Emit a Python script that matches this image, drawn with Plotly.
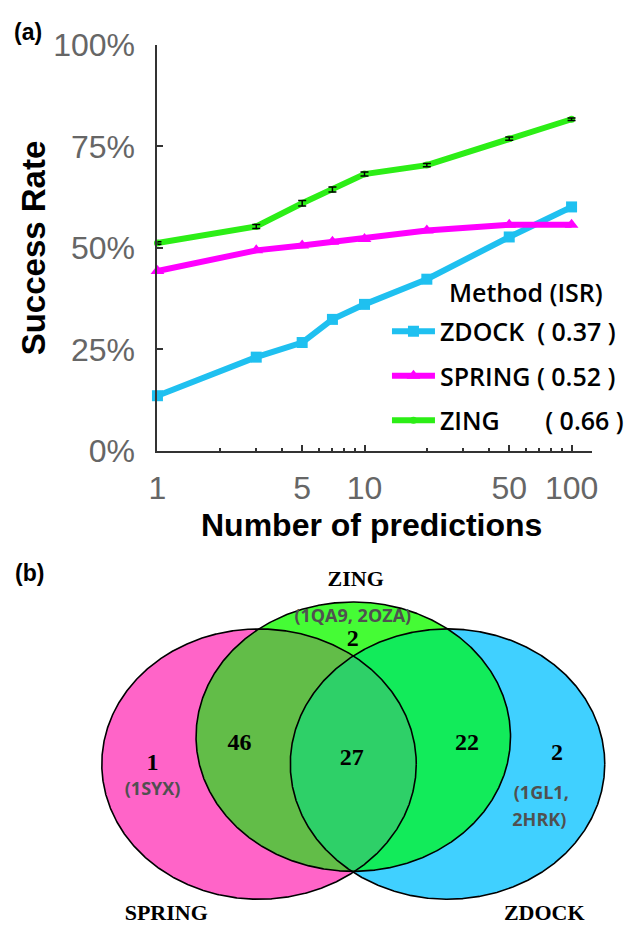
import numpy as np
import plotly.graph_objects as go

# ---------------- data: panel (a) ----------------
x_preds = [1, 3, 5, 7, 10, 20, 50, 100]
zdock_rate = [13.6, 23.1, 26.7, 32.4, 36.1, 42.3, 52.7, 60.1]
spring_rate = [44.3, 49.4, 50.6, 51.5, 52.2, 54.3, 55.7, 55.7]
zing_rate = [51.2, 55.3, 61.0, 64.4, 68.2, 70.4, 76.9, 81.7]
zing_err = [0.3, 0.5, 0.7, 0.6, 0.5, 0.4, 0.4, 0.3]
method_names = ["ZDOCK", "SPRING", "ZING"]
method_isr = ["0.37", "0.52", "0.66"]
y_tickvals = [0, 25, 50, 75, 100]
y_ticktext = ["0%", "25%", "50%", "75%", "100%"]
x_tickvals = [1, 5, 10, 50, 100]
x_ticktext = ["1", "5", "10", "50", "100"]
x_minor = [2, 3, 4, 6, 7, 8, 9, 20, 30, 40, 60, 70, 80, 90]

# ---------------- data: panel (b) ----------------
venn_sets = ["SPRING", "ZING", "ZDOCK"]
region_counts = ["1", "46", "27", "22", "2", "2"]
region_ids = ["(1SYX)", "", "", "", "(1GL1,", "(1QA9, 2OZA)"]
region_ids2 = ["", "", "", "", "2HRK)", ""]

W, H = 643, 949
def px(x): return x / W
def py(y): return 1 - y / H

C_ZDOCK = "#1fc0f0"
C_SPRING = "#ff00ff"
C_ZING = "#2cee16"

fig = go.Figure()

series = [(zdock_rate, C_ZDOCK, "square", 11),
          (spring_rate, C_SPRING, "triangle-up", 12),
          (zing_rate, C_ZING, "circle", 7)]
pads = ["\u00a0\u00a0", "\u00a0", "\u00a0\u00a0\u00a0\u00a0\u00a0\u00a0\u00a0"]
for (vals, col, sym, sz), nm, isr, pad in zip(series, method_names, method_isr, pads):
    fig.add_trace(go.Scatter(
        x=x_preds, y=vals, mode="lines+markers",
        name=f"{nm}{pad}(\u00a0{isr}\u00a0)",
        line=dict(color=col, width=6),
        marker=dict(symbol=sym, size=sz, color=col),
        legendgroup=nm, cliponaxis=False, hoverinfo="skip"))

fig.add_trace(go.Scatter(
    x=x_preds, y=zing_rate, mode="markers",
    marker=dict(size=1, color="rgba(0,0,0,0)"),
    error_y=dict(type="data", array=zing_err, visible=True, color="black",
                 thickness=1.5, width=4),
    showlegend=False, cliponaxis=False, hoverinfo="skip"))

# ---------------- Venn geometry (pixel coordinates) ----------------
ELL = {"SPRING": (256, 775.5, 161, 140.5),
       "ZING": (352.5, 747, 161, 140),
       "ZDOCK": (449, 775.5, 161, 140.5)}

def boundary(e, n=1440):
    cx, cy, rx, ry = e
    t = np.linspace(0, 2 * np.pi, n, endpoint=False)
    return cx + rx * np.cos(t), cy + ry * np.sin(t)

def inside(x, y, e):
    cx, cy, rx, ry = e
    return ((x - cx) / rx) ** 2 + ((y - cy) / ry) ** 2 <= 1 + 1e-9

def region(names):
    xs, ys = [], []
    for nm in names:
        bx, by = boundary(ELL[nm])
        m = np.ones_like(bx, dtype=bool)
        for other in names:
            if other != nm:
                m &= inside(bx, by, ELL[other])
        xs.append(bx[m]); ys.append(by[m])
    xs = np.concatenate(xs); ys = np.concatenate(ys)
    cx, cy = xs.mean(), ys.mean()
    order = np.argsort(np.arctan2(ys - cy, xs - cx))
    xs, ys = xs[order], ys[order]
    return np.append(xs, xs[0]), np.append(ys, ys[0])

def fill_trace(x, y, color):
    return go.Scatter(x=x, y=y, mode="lines", fill="toself", fillcolor=color,
                      line=dict(width=0, color=color), xaxis="x2", yaxis="y2",
                      showlegend=False, hoverinfo="skip")

for nm, col in [("SPRING", "#ff64c8"), ("ZDOCK", "#40d0ff")]:
    bx, by = boundary(ELL[nm])
    fig.add_trace(fill_trace(np.append(bx, bx[0]), np.append(by, by[0]), col))
rx_, ry_ = region(["SPRING", "ZDOCK"])
fig.add_trace(fill_trace(rx_, ry_, "#ff64c8"))
bx, by = boundary(ELL["ZING"])
fig.add_trace(fill_trace(np.append(bx, bx[0]), np.append(by, by[0]), "#45fc35"))
for names, col in [(["SPRING", "ZING"], "#62bd48"),
                   (["ZING", "ZDOCK"], "#12eb5a"),
                   (["SPRING", "ZING", "ZDOCK"], "#2ed068")]:
    rx_, ry_ = region(names)
    fig.add_trace(fill_trace(rx_, ry_, col))
for nm in venn_sets:
    bx, by = boundary(ELL[nm])
    fig.add_trace(go.Scatter(x=np.append(bx, bx[0]), y=np.append(by, by[0]),
                             mode="lines", line=dict(color="black", width=1.6),
                             xaxis="x2", yaxis="y2", showlegend=False, hoverinfo="skip"))

# region counts (serif bold)
count_pos = [(147, 775), (236, 755), (351, 770), (469, 755), (561, 765), (352, 647)]
fig.add_trace(go.Scatter(
    x=[p[0] for p in count_pos], y=[p[1] for p in count_pos], mode="text",
    text=region_counts, textposition="middle center",
    textfont=dict(family="Liberation Serif", size=24, color="black", weight="bold"),
    xaxis="x2", yaxis="y2", showlegend=False, hoverinfo="skip"))
id_pos = [(147, 803), (0, 0), (0, 0), (0, 0), (545, 807), (352, 623)]
id2_pos = [(0, 0), (0, 0), (0, 0), (0, 0), (543, 835), (0, 0)]
fig.add_trace(go.Scatter(
    x=[p[0] for p, t in zip(id_pos, region_ids) if t] + [p[0] for p, t in zip(id2_pos, region_ids2) if t],
    y=[p[1] for p, t in zip(id_pos, region_ids) if t] + [p[1] for p, t in zip(id2_pos, region_ids2) if t],
    text=[t for t in region_ids if t] + [t for t in region_ids2 if t],
    mode="text", textposition="middle center",
    textfont=dict(family="Open Sans", size=18, color="#505050", weight="bold"),
    xaxis="x2", yaxis="y2", showlegend=False, hoverinfo="skip"))
set_label_pos = [(161, 932), (355, 585), (548, 932)]
fig.add_trace(go.Scatter(
    x=[p[0] for p in set_label_pos], y=[p[1] for p in set_label_pos],
    text=venn_sets, mode="text", textposition="middle center",
    textfont=dict(family="Liberation Serif", size=22, color="black", weight="bold"),
    xaxis="x2", yaxis="y2", showlegend=False, hoverinfo="skip"))

axis_col = "#333333"
tick_font = dict(family="Liberation Sans", size=32, color="#666666")
fig.update_layout(
    width=W, height=H, autosize=False,
    margin=dict(l=0, r=0, t=0, b=0),
    paper_bgcolor="white", plot_bgcolor="rgba(0,0,0,0)",
    xaxis=dict(type="log", domain=[px(152), px(597)], range=[0, np.log10(100) * (597 - 152) / (576 - 152)],
               showline=True, linecolor=axis_col, linewidth=2, mirror=False,
               ticks="inside", ticklen=6, tickwidth=1.5, tickcolor=axis_col,
               tickmode="array", tickvals=x_tickvals, ticktext=x_ticktext,
               tickfont=tick_font, ticklabelstandoff=8,
               minor=dict(tickmode="array", tickvals=x_minor, ticks="inside", ticklen=3,
                          tickwidth=1.5, tickcolor=axis_col, showgrid=False),
               showgrid=False, zeroline=False, anchor="y"),
    yaxis=dict(domain=[py(450), py(28)], range=[0, 100],
               showline=True, linecolor=axis_col, linewidth=2,
               ticks="inside", ticklen=6, tickwidth=1.5, tickcolor=axis_col,
               tickmode="array", tickvals=y_tickvals, ticktext=y_ticktext,
               tickfont=tick_font, ticklabelstandoff=14,
               showgrid=False, zeroline=False, anchor="x"),
    xaxis2=dict(domain=[0, 1], range=[0, W], visible=False, anchor="y2"),
    yaxis2=dict(domain=[0, (H - 550) / H], range=[H, 550], visible=False, anchor="x2"),
    legend=dict(x=px(387), y=py(302), xanchor="left", yanchor="top",
                bgcolor="rgba(0,0,0,0)", itemwidth=43, tracegroupgap=9,
                font=dict(family="Open Sans", size=25, color="black", weight=600)),
    showlegend=True,
    annotations=[
        dict(x=px(3), y=py(15), xref="paper", yref="paper", text="(a)", showarrow=False,
             xanchor="left", yanchor="middle",
             font=dict(family="Liberation Sans", size=23, color="black", weight="bold")),
        dict(x=px(4), y=py(577), xref="paper", yref="paper", text="(b)", showarrow=False,
             xanchor="left", yanchor="middle",
             font=dict(family="Liberation Sans", size=23, color="black", weight="bold")),
        dict(x=px(529), y=py(285), xref="paper", yref="paper", text="Method (ISR)",
             showarrow=False, xanchor="center", yanchor="middle",
             font=dict(family="Open Sans", size=25, color="black", weight=600)),
        dict(x=px(26), y=py(239), xref="paper", yref="paper", text="Success Rate",
             showarrow=False, textangle=-90, xanchor="center", yanchor="middle",
             font=dict(family="Liberation Sans", size=33, color="black", weight="bold")),
        dict(x=px(371), y=py(527), xref="paper", yref="paper", text="Number of predictions",
             showarrow=False, xanchor="center", yanchor="middle",
             font=dict(family="Liberation Sans", size=32, color="black", weight="bold")),
    ],
)

fig.write_html("out.html", config={"displayModeBar": False},
               post_script="document.body.style.margin='0';")
